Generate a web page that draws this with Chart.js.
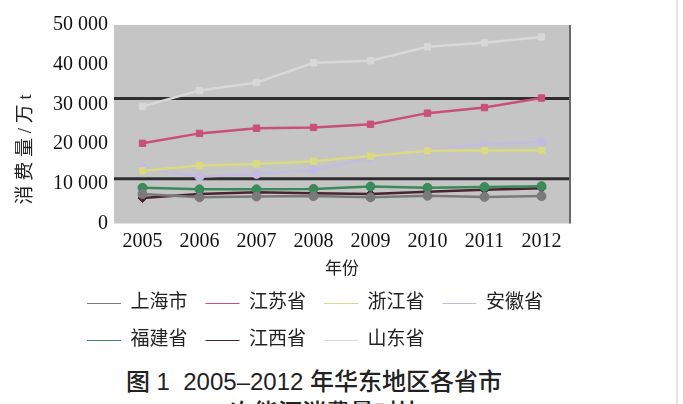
<!DOCTYPE html>
<html>
<head>
<meta charset="utf-8">
<script src="https://cdn.jsdelivr.net/npm/chart.js@4.4.1/dist/chart.umd.min.js"></script>
<style>
  html, body { margin: 0; padding: 0; background: #ffffff; overflow: hidden; }
  body { width: 683px; height: 404px; position: relative; }
  #wrap { position: absolute; left: 0; top: 0; width: 683px; height: 360px; }
  #edge { position: absolute; left: 676px; top: 0; width: 2px; height: 404px; background: #e4e4e4; }
  #caption {
    position: absolute; left: 0; top: 366px; width: 628px;
    text-align: center; font-family: 'Liberation Sans', 'Noto Sans CJK SC', sans-serif;
    font-size: 24px; font-weight: 500; line-height: 31px; color: #222;
  }
</style>
</head>
<body>
<div id="wrap"><canvas id="myChart"></canvas></div>
<div id="edge"></div>
<div id="caption">图 1&nbsp; 2005–2012 年华东地区各省市<br>一次能源消费量对比</div>
<script>
// Years on the x axis
const years = ['2005', '2006', '2007', '2008', '2009', '2010', '2011', '2012'];

// Consumption per province, 万 t
const shanghai = [7400, 6600, 6800, 6900, 6600, 7000, 6700, 6900];
const jiangsu  = [20200, 22700, 24000, 24200, 25000, 27800, 29200, 31600];
const zhejiang = [13300, 14600, 15000, 15700, 17000, 18300, 18400, 18400];
const anhui    = [14000, 11800, 12500, 13500, 16500, 18500, 20000, 20500];
const fujian   = [9000, 8600, 8600, 8700, 9300, 9000, 9200, 9400];
const jiangxi  = [6400, 7400, 7900, 7600, 7400, 8000, 8500, 8900];
const shandong = [29500, 33500, 35500, 40500, 41000, 44500, 45500, 47000];

// Two dark horizontal rules across the plot
const ruleValues = [31500, 11300];

// Y axis ticks
const yTicks = [0, 10000, 20000, 30000, 40000, 50000];

const serif = "'Liberation Serif', 'Noto Sans CJK SC', serif";

function series(label, data, color, style) {
    return {
        label: label,
        data: data,
        borderColor: color,
        backgroundColor: color,
        borderWidth: 2.5,
        pointStyle: style,
        pointRadius: 4.5,
        pointBorderWidth: 1,
        tension: 0
    };
}

// Plot background and the two rules
const plotDecor = {
    id: 'plotDecor',
    beforeDatasetsDraw(chart) {
        const {ctx, chartArea: a, scales: {y}} = chart;
        ctx.save();
        ctx.fillStyle = '#c5c5c5';
        ctx.fillRect(a.left, a.top, a.right - a.left, a.bottom - a.top);
        ctx.strokeStyle = '#2f2f2f';
        ctx.lineWidth = 3;
        ruleValues.forEach(v => {
            const py = y.getPixelForValue(v);
            ctx.beginPath();
            ctx.moveTo(a.left, py);
            ctx.lineTo(a.right, py);
            ctx.stroke();
        });
        ctx.strokeStyle = '#6a6a6a';
        ctx.lineWidth = 2;
        ctx.beginPath();
        ctx.moveTo(a.right, a.top);
        ctx.lineTo(a.right, a.bottom);
        ctx.stroke();
        ctx.restore();
    }
};

// Legend rows start further right than the y axis box
const legendShift = {
    id: 'legendShift',
    afterLayout(chart) {
        const lg = chart.legend;
        const d = 69 - lg.left;
        lg.left += d;
        lg.right += d;
    }
};

const ctx = document.getElementById('myChart').getContext('2d');
const chart = new Chart(ctx, {
    type: 'line',
    data: {
        labels: years,
        datasets: [
            series('上海市', shanghai, '#7a7a7a', 'circle'),
            series('江苏省', jiangsu, '#c8507a', 'rect'),
            series('浙江省', zhejiang, '#dada80', 'rect'),
            series('安徽省', anhui, '#c4bce0', 'circle'),
            series('福建省', fujian, '#3a8a5a', 'circle'),
            series('江西省', jiangxi, '#4a2230', 'rectRot'),
            series('山东省', shandong, '#d8d8d8', 'rect')
        ]
    },
    options: {
        responsive: true,
        maintainAspectRatio: false,
        animation: false,
        layout: {
            padding: { left: 45, right: 113, top: 25, bottom: 0 }
        },
        plugins: {
            legend: {
                position: 'bottom',
                align: 'start',
                labels: {
                    usePointStyle: true,
                    pointStyle: 'line',
                    pointStyleWidth: 34,
                    boxHeight: 6,
                    padding: 18,
                    color: '#222',
                    font: { family: serif, size: 19 }
                }
            },
            tooltip: { enabled: false }
        },
        scales: {
            x: {
                offset: true,
                grid: { display: false, drawTicks: false },
                border: { display: false },
                ticks: { color: '#111', padding: 6, font: { family: serif, size: 20 } },
                title: {
                    display: true,
                    text: '年份',
                    color: '#222',
                    padding: { top: 0, bottom: -4 },
                    font: { family: serif, size: 17 }
                },
                afterFit(scale) { scale.height = 52.5; }
            },
            y: {
                min: 0,
                max: 50000,
                afterBuildTicks(scale) { scale.ticks = yTicks.map(v => ({ value: v })); },
                grid: { display: false, drawTicks: false },
                border: { display: false },
                ticks: {
                    color: '#111',
                    padding: 6,
                    font: { family: serif, size: 20 },
                    callback: v => v === 0 ? '0' : String(v).replace(/\B(?=(\d{3})+(?!\d))/g, ' ')
                },
                title: {
                    display: true,
                    text: '    消 费 量 / 万 t',
                    align: 'start',
                    color: '#222',
                    padding: { top: -30, bottom: 0 },
                    font: { family: serif, size: 19 }
                },
                afterFit(scale) { scale.width = 69; }
            }
        }
    },
    plugins: [plotDecor, legendShift]
});
</script>
</body>
</html>
